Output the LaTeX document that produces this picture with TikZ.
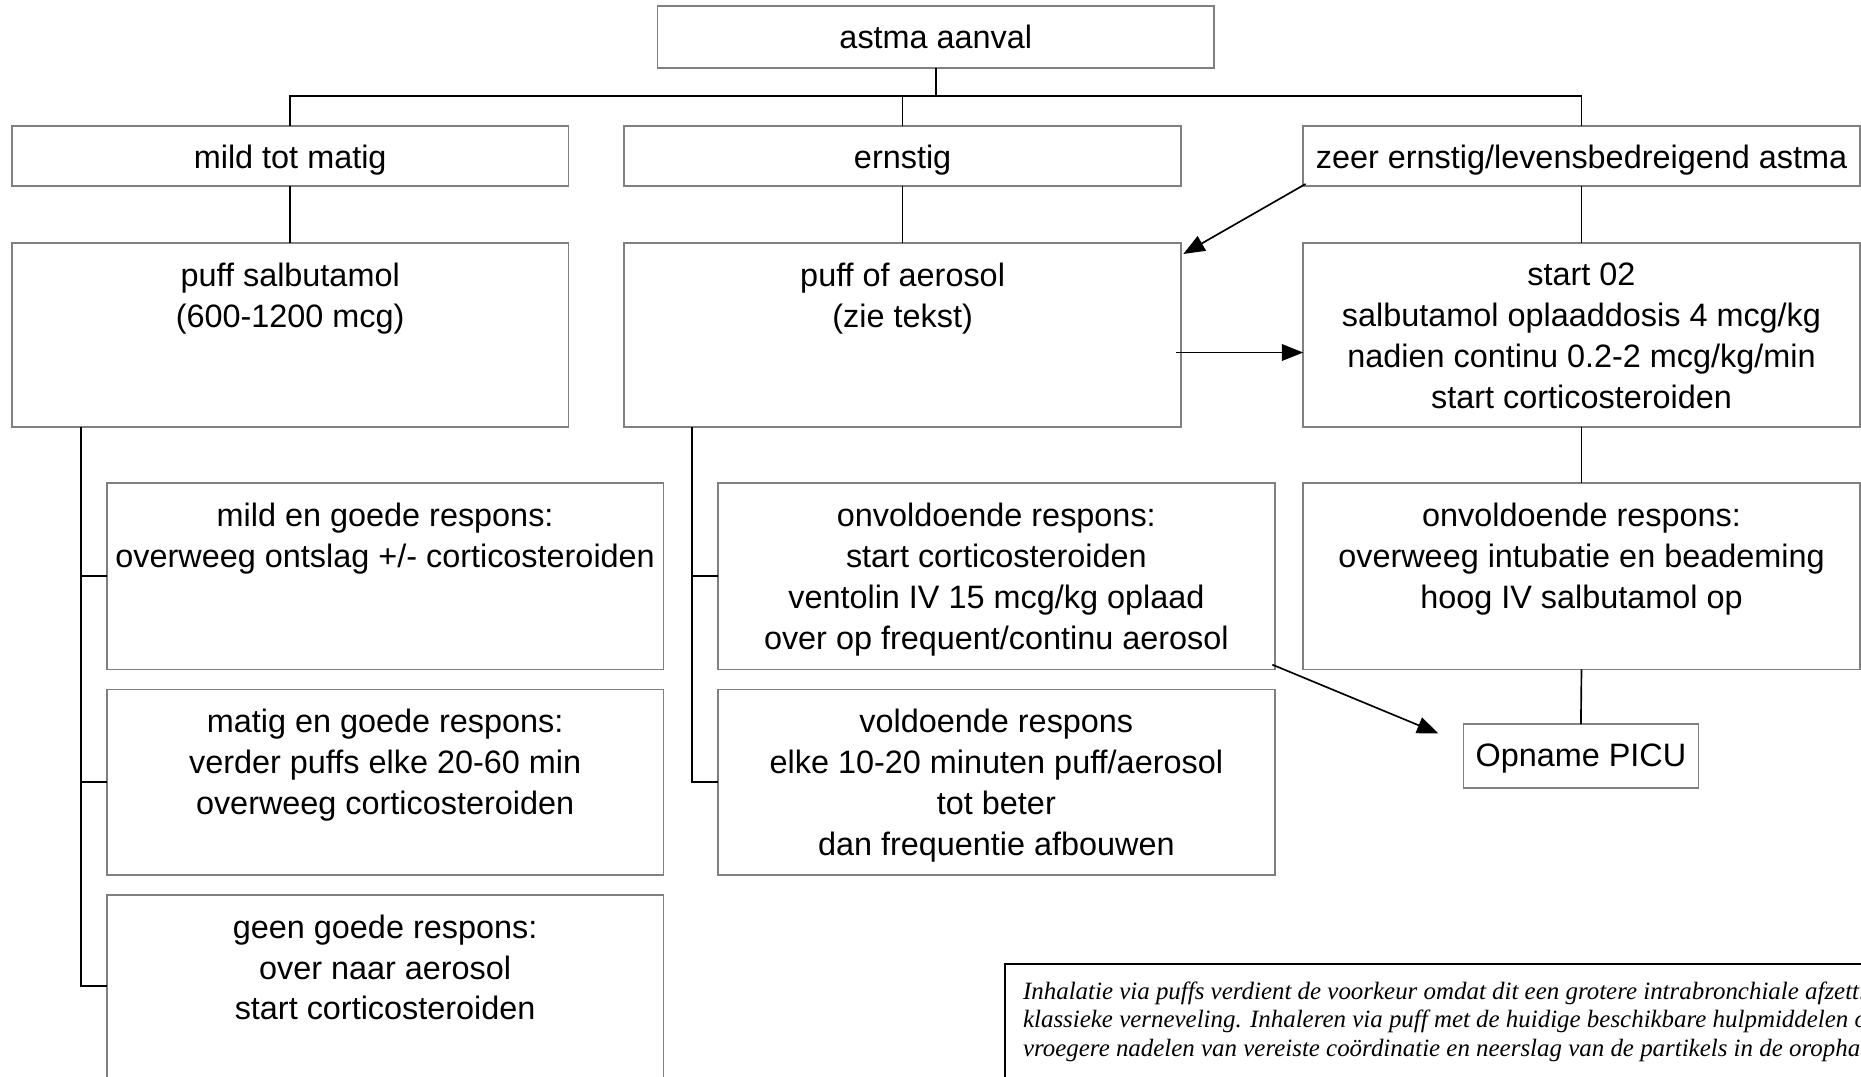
\documentclass[tikz,border=0pt]{standalone}
\usepackage{fontspec}
\setmainfont{Liberation Sans}
\newfontfamily\noteserif{Liberation Serif}
\usetikzlibrary{arrows.meta,calc}
\definecolor{boxgray}{RGB}{128,128,128}
\tikzset{
  boxst/.style={draw=boxgray, line width=0.75pt, fill=white, inner sep=0pt, outer sep=0pt},
  txtst/.style={align=center, inner sep=0pt, outer sep=0pt, font=\fontsize{13.65pt}{17.25pt}\selectfont, execute at begin node=\strut},
  conn/.style={draw=black, line width=0.7pt},
  arr/.style={conn, -{Triangle[length=9pt,width=7pt]}},
  notest/.style={align=left, inner sep=0pt, outer sep=0pt, font=\noteserif\itshape\fontsize{10.5pt}{12pt}\selectfont, execute at begin node=\strut},
}
% single-line box
\newcommand\mybox[6]{%
  \pgfmathsetmacro\bw{(#4-#2)*0.5}%
  \pgfmathsetmacro\bh{(#5-#3)*0.5}%
  \node[boxst, anchor=north west, minimum width=\bw pt, minimum height=\bh pt] (#1) at (#2,#3) {};
  \node[txtst, anchor=north] (#1-t) at ([yshift=-5.93pt]#1.north) {#6};
}
% multi-line box
\newcommand\myboxm[6]{%
  \pgfmathsetmacro\bw{(#4-#2)*0.5}%
  \pgfmathsetmacro\bh{(#5-#3)*0.5}%
  \node[boxst, anchor=north west, minimum width=\bw pt, minimum height=\bh pt] (#1) at (#2,#3) {};
  \node[txtst, anchor=north] (#1-t) at ([yshift=-8.3pt]#1.north) {#6};
}
\begin{document}
\begin{tikzpicture}[x=0.5pt,y=-0.5pt]
\path[use as bounding box, clip] (0,0) rectangle (1568,907);
\fill[white] (0,0) rectangle (1568,907);

\mybox{A}{554}{5}{1023}{57}{astma aanval}
\mybox{B1}{10}{106}{479}{157}{mild tot matig}
\mybox{B2}{526}{106}{995}{157}{ernstig}
\mybox{B3}{1098}{106}{1567}{157}{zeer ernstig/levensbedreigend astma}
\myboxm{C1}{10}{205}{479}{360}{puff salbutamol\\(600-1200 mcg)}
\myboxm{C2}{526}{205}{995}{360}{puff of aerosol\\(zie tekst)}
\myboxm{C3}{1098}{205}{1567}{360}{start 02\\salbutamol oplaaddosis 4 mcg/kg\\nadien continu 0.2-2 mcg/kg/min\\start corticosteroiden}
\myboxm{D1}{90}{407}{559}{564}{mild en goede respons:\\overweeg ontslag +/- corticosteroiden}
\myboxm{D2}{90}{581}{559}{737}{matig en goede respons:\\verder puffs elke 20-60 min\\overweeg corticosteroiden}
\myboxm{D3}{90}{754}{559}{908}{geen goede respons:\\over naar aerosol\\start corticosteroiden}
\myboxm{E1}{605}{407}{1074}{564}{onvoldoende respons:\\start corticosteroiden\\ventolin IV 15 mcg/kg oplaad\\over op frequent/continu aerosol}
\myboxm{E2}{605}{581}{1074}{737}{voldoende respons\\elke 10-20 minuten puff/aerosol\\tot beter\\dan frequentie afbouwen}
\myboxm{F1}{1098}{407}{1567}{564}{onvoldoende respons:\\overweeg intubatie en beademing\\hoog IV salbutamol op}
\mybox{G}{1233}{610}{1431}{664}{Opname PICU}

% note box
\node[draw=black, line width=0.8pt, fill=white, inner sep=0pt, outer sep=0pt, anchor=north west, minimum width=400pt, minimum height=80pt] (N) at (847,812) {};
\node[notest, anchor=north west] (N-t) at (862,827) {Inhalatie via puffs verdient de voorkeur omdat dit een grotere intrabronchiale afzetting geeft dan\\klassieke verneveling. Inhaleren via puff met de huidige beschikbare hulpmiddelen ondervangt de\\vroegere nadelen van vereiste coördinatie en neerslag van de partikels in de oropharynx.};

% connectors
\coordinate (bus) at (788.5,81);
\draw[conn] (A.south) -- (bus);
\draw[conn] (B1.north) |- (bus) -| (B3.north);
\draw[conn] (B2.north) -- (B2.north |- bus);
\draw[conn] (B1.south) -- (C1.north);
\draw[conn] (B2.south) -- (C2.north);
\draw[conn] (B3.south) -- (C3.north);
\draw[conn] (C3.south) -- (F1.north);
\draw[conn] (F1.south) -- (G.north);

\coordinate (spL) at (68,360);
\draw[conn] (spL) |- (D1.west);
\draw[conn] (spL) |- (D2.west);
\draw[conn] (spL) |- (D3.west);
\coordinate (spM) at (583,360);
\draw[conn] (spM) |- (E1.west);
\draw[conn] (spM) |- (E2.west);

\coordinate (d1) at ($(B3.south west)+(2,-2)$);
\coordinate (d2) at ($(C2.north east)+(2,9)$);
\draw[arr] (d1) -- (d2);
\coordinate (h1) at ($(C2.east)+(-4,14.5)$);
\draw[arr] (h1) -- (h1 -| C3.west);
\coordinate (e1) at ($(E1.south east)+(-2,-4)$);
\coordinate (e2) at ($(G.west)+(-21,-19)$);
\draw[arr] (e1) -- (e2);
\end{tikzpicture}
\end{document}
